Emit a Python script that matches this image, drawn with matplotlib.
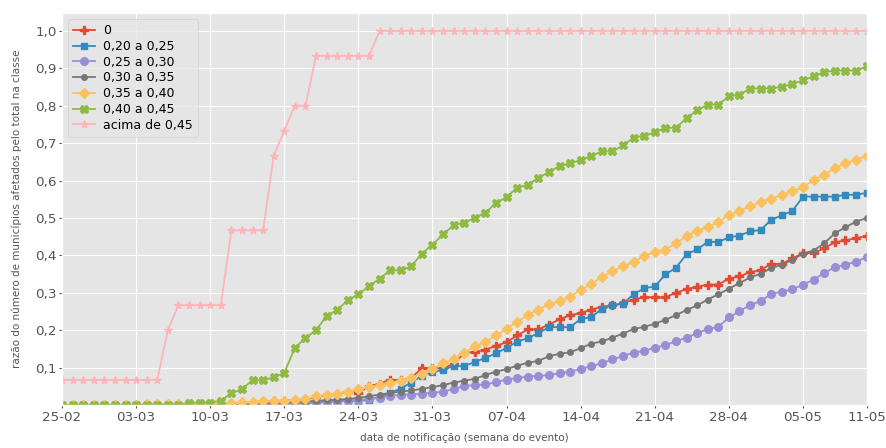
import matplotlib
matplotlib.use("Agg")
import matplotlib.pyplot as plt
import matplotlib.dates as mdates
import pandas as pd

plt.style.use("ggplot")

dates = pd.date_range("2020-02-25", "2020-05-11", freq="D")

labels = ["0", "0,20 a 0,25", "0,25 a 0,30", "0,30 a 0,35",
          "0,35 a 0,40", "0,40 a 0,45", "acima de 0,45"]

s_0 = [0]*18 + [0.004, 0.008, 0.010, 0.012, 0.012, 0.016, 0.021, 0.026, 0.030, 0.036,
       0.032, 0.050, 0.057, 0.068, 0.066, 0.073, 0.098, 0.098, 0.098, 0.110,
       0.139, 0.142, 0.148, 0.158, 0.168, 0.186, 0.202, 0.202, 0.215, 0.229,
       0.240, 0.246, 0.255, 0.263, 0.266, 0.272, 0.282, 0.288, 0.288, 0.288,
       0.300, 0.310, 0.316, 0.322, 0.322, 0.338, 0.344, 0.355, 0.361, 0.377,
       0.377, 0.392, 0.406, 0.406, 0.419, 0.435, 0.440, 0.446, 0.452]

s_20_25 = [0]*18 + [0.002, 0.003, 0.004, 0.005, 0.006, 0.008, 0.010, 0.011, 0.011, 0.011,
           0.012, 0.013, 0.022, 0.032, 0.044, 0.060, 0.078, 0.087, 0.094, 0.104,
           0.104, 0.115, 0.126, 0.138, 0.153, 0.169, 0.179, 0.192, 0.208, 0.208,
           0.208, 0.230, 0.235, 0.257, 0.267, 0.271, 0.296, 0.312, 0.317, 0.349,
           0.367, 0.403, 0.416, 0.436, 0.436, 0.448, 0.453, 0.464, 0.468, 0.495,
           0.507, 0.519, 0.557, 0.557, 0.557, 0.557, 0.562, 0.562, 0.567]

s_25_30 = [0]*20 + [0.002, 0.003, 0.004, 0.005, 0.006, 0.007, 0.009, 0.011, 0.013, 0.016,
           0.020, 0.024, 0.027, 0.028, 0.030, 0.033, 0.035, 0.043, 0.051, 0.053,
           0.055, 0.061, 0.068, 0.072, 0.076, 0.078, 0.080, 0.085, 0.089, 0.097,
           0.103, 0.112, 0.122, 0.131, 0.140, 0.145, 0.153, 0.160, 0.170, 0.180,
           0.192, 0.203, 0.209, 0.234, 0.251, 0.267, 0.278, 0.297, 0.303, 0.309,
           0.322, 0.335, 0.353, 0.368, 0.375, 0.383, 0.395]

s_30_35 = [0]*18 + [0.002, 0.004, 0.005, 0.006, 0.008, 0.009, 0.011, 0.013, 0.014, 0.016,
           0.019, 0.023, 0.028, 0.032, 0.036, 0.039, 0.043, 0.048, 0.053, 0.060,
           0.065, 0.070, 0.080, 0.089, 0.096, 0.105, 0.113, 0.118, 0.130, 0.137,
           0.141, 0.152, 0.164, 0.170, 0.180, 0.191, 0.203, 0.209, 0.217, 0.228,
           0.240, 0.254, 0.266, 0.282, 0.296, 0.311, 0.326, 0.341, 0.351, 0.366,
           0.375, 0.388, 0.405, 0.413, 0.432, 0.459, 0.475, 0.490, 0.500]

s_35_40 = [0]*8 + [0.003]*8 + [0.005, 0.007, 0.009, 0.010, 0.011, 0.012, 0.013, 0.016,
           0.023, 0.027, 0.030, 0.036, 0.042, 0.048, 0.053, 0.059, 0.065, 0.073,
           0.084, 0.097, 0.111, 0.124, 0.140, 0.157, 0.168, 0.186, 0.204, 0.223,
           0.240, 0.255, 0.269, 0.277, 0.290, 0.307, 0.324, 0.342, 0.357, 0.371,
           0.382, 0.399, 0.409, 0.415, 0.432, 0.452, 0.466, 0.475, 0.489, 0.508,
           0.519, 0.531, 0.543, 0.552, 0.561, 0.571, 0.582, 0.602, 0.615, 0.633,
           0.647, 0.656, 0.666]

s_40_45 = [0]*12 + [0.006, 0.006, 0.006, 0.012, 0.031, 0.043, 0.066, 0.066, 0.074, 0.086,
           0.153, 0.179, 0.200, 0.238, 0.254, 0.280, 0.296, 0.317, 0.338, 0.360,
           0.360, 0.371, 0.405, 0.429, 0.456, 0.481, 0.487, 0.501, 0.514, 0.540,
           0.556, 0.581, 0.588, 0.607, 0.623, 0.639, 0.646, 0.655, 0.666, 0.678,
           0.678, 0.694, 0.715, 0.720, 0.729, 0.741, 0.741, 0.767, 0.788, 0.803,
           0.803, 0.825, 0.830, 0.846, 0.846, 0.846, 0.851, 0.858, 0.868, 0.879,
           0.890, 0.894, 0.894, 0.894, 0.905]

s_45 = [1/15]*10 + [3/15] + [4/15]*5 + [7/15]*4 + [10/15, 11/15, 12/15, 12/15] \
       + [14/15]*6 + [1.0]*47

series = [s_0, s_20_25, s_25_30, s_30_35, s_35_40, s_40_45, s_45]
markers = ["P", "s", "o", "o", "D", "X", "*"]
msizes = [5.5, 5, 5.5, 4, 5.5, 6, 5.5]

tick_dates = list(pd.date_range("2020-02-25", "2020-05-05", freq="7D")) + [pd.Timestamp("2020-05-11")]

fig = plt.figure(figsize=(8.87, 4.48), dpi=100)
ax = fig.add_axes([0.0699, 0.096, 0.907, 0.875])

for vals, lab, mk, ms in zip(series, labels, markers, msizes):
    ax.plot(dates, vals, marker=mk, markersize=ms, linewidth=1.3, label=lab)

ax.set_xlim(dates[0], dates[-1])
ax.set_ylim(0, 1.048)
ax.set_xticks(tick_dates)
ax.xaxis.set_major_formatter(mdates.DateFormatter("%d-%m"))
yt = [0.1, 0.2, 0.3, 0.4, 0.5, 0.6, 0.7, 0.8, 0.9, 1.0]
ax.set_yticks(yt)
ax.set_yticklabels([f"{v:.1f}".replace(".", ",") for v in yt])
ax.tick_params(axis="both", labelsize=9.7, colors="#555555", length=2.5, pad=1.5)

ax.set_xlabel("data de notificação (semana do evento)", fontsize=7.5,
              color="#555555", labelpad=7)
ax.set_ylabel("razão do número de municípios afetados pelo total na classe",
              fontsize=7.5, color="#555555", labelpad=9)

ax.legend(loc="upper left", fontsize=9, handlelength=1.7, borderaxespad=0.5,
          labelspacing=0.22, handletextpad=0.7)

fig.savefig("out.png", dpi=100)
